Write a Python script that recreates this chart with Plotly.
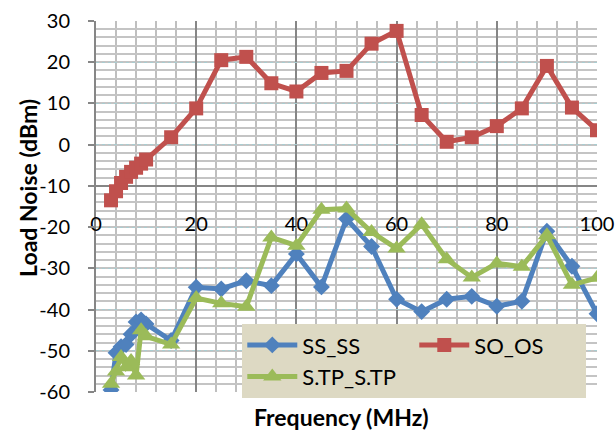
import plotly.graph_objects as go

# ---- data ----
freq_ss = [3, 4, 5, 6, 7, 8, 9, 10, 15, 20, 25, 30, 35, 40, 45, 50, 55, 60, 65, 70, 75, 80, 85, 90, 95, 100]
ss_ss = [-59.5, -50.5, -49, -48.5, -46, -43, -42.5, -43.5, -47.5, -34.6, -35, -33, -34.2, -26.5, -34.5,
         -18, -24.7, -37.5, -40.5, -37.5, -36.8, -39.2, -38, -21, -29.5, -41]

freq_so = [3, 4, 5, 6, 7, 8, 9, 10, 15, 20, 25, 30, 35, 40, 45, 50, 55, 60, 65, 70, 75, 80, 85, 90, 95, 100]
so_os = [-13.5, -11.3, -9.3, -7.8, -6.6, -5.6, -4.6, -3.6, 1.8, 8.8, 20.5, 21.3, 14.9, 12.9, 17.4,
         17.9, 24.5, 27.6, 7.2, 0.7, 1.8, 4.5, 8.8, 19.1, 9.0, 3.5]

freq_tp = [3, 4, 5, 6, 7, 8, 9, 10, 15, 20, 25, 30, 35, 40, 45, 50, 55, 60, 65, 70, 75, 80, 85, 90, 95, 100]
stp_stp = [-58, -55, -51.5, -54, -52.5, -56, -45, -46.5, -48.5, -37.2, -38.5, -39.3, -22.5, -24.5, -15.8,
           -15.5, -21.2, -25.2, -19.3, -27.8, -32.2, -28.8, -29.6, -22, -34, -32.3]

series_names = ["SS_SS", "SO_OS", "S.TP_S.TP"]
x_ticks = [0, 20, 40, 60, 80, 100]
y_ticks = [30, 20, 10, 0, -10, -20, -30, -40, -50, -60]

FONT = "Lato"

fig = go.Figure()
fig.add_trace(go.Scatter(x=freq_ss, y=ss_ss, name=series_names[0], mode="lines+markers",
                         line=dict(color="#4F81BD", width=5),
                         marker=dict(symbol="diamond", size=13, color="#4F81BD")))
fig.add_trace(go.Scatter(x=freq_so, y=so_os, name=series_names[1], mode="lines+markers",
                         line=dict(color="#C0504D", width=5),
                         marker=dict(symbol="square", size=14, color="#C0504D")))
fig.add_trace(go.Scatter(x=freq_tp, y=stp_stp, name=series_names[2], mode="lines+markers",
                         line=dict(color="#9BBB59", width=5),
                         marker=dict(symbol="triangle-up", size=16, color="#9BBB59")))

fig.update_layout(
    template="none",
    width=616, height=431,
    margin=dict(l=95.5, r=19, t=20.7, b=39, autoexpand=False),
    paper_bgcolor="white", plot_bgcolor="white",
    font=dict(family=FONT, size=20, color="black"),
    showlegend=True,
    legend=dict(orientation="h", x=0.292, y=0.183, xanchor="left", yanchor="top",
                bgcolor="#DDD9C3", borderwidth=0, entrywidth=107, itemwidth=50,
                font=dict(family=FONT, size=22, color="black"),
                tracegroupgap=0),
    xaxis=dict(range=[0, 100], tickvals=x_ticks, ticktext=[str(v) for v in x_ticks],
               anchor="free", position=50 / 90, automargin=False,
               showline=True, linecolor="#868686", linewidth=2,
               showgrid=True, gridcolor="#868686", gridwidth=2,
               minor=dict(dtick=4, showgrid=True, gridcolor="#BFBFBF", gridwidth=2, griddash="solid"),
               zeroline=False, ticks="", ticklabelstandoff=20, layer="below traces",
               tickfont=dict(family=FONT, size=20, color="black")),
    yaxis=dict(range=[-60, 30], tickvals=y_ticks, ticktext=[str(v) for v in y_ticks],
               automargin=False,
               showline=True, linecolor="#868686", linewidth=2, mirror=False,
               showgrid=True, gridcolor="#A9CDD1", gridwidth=1, griddash="dot",
               minor=dict(dtick=2, showgrid=True, gridcolor="#C4C4C4", gridwidth=2, griddash="solid"),
               zeroline=False, ticks="outside", ticklen=6, tickcolor="#868686", tickwidth=2,
               ticklabelstandoff=14, layer="below traces",
               tickfont=dict(family=FONT, size=20, color="black")),
    annotations=[
        dict(text="<b>Load Noise (dBm)</b>", xref="paper", yref="paper", x=-0.1346, y=0.549,
             textangle=-90, showarrow=False, xanchor="center", yanchor="middle",
             font=dict(family=FONT, size=23, color="black")),
        dict(text="<b>Frequency (MHz)</b>", xref="paper", yref="paper", x=0.4895, y=-0.0673,
             showarrow=False, xanchor="center", yanchor="middle",
             font=dict(family=FONT, size=23, color="black")),
    ],
)

fig.write_html("out.html", config={"displayModeBar": False},
               post_script="document.body.style.margin='0';document.body.style.overflow='hidden';")
